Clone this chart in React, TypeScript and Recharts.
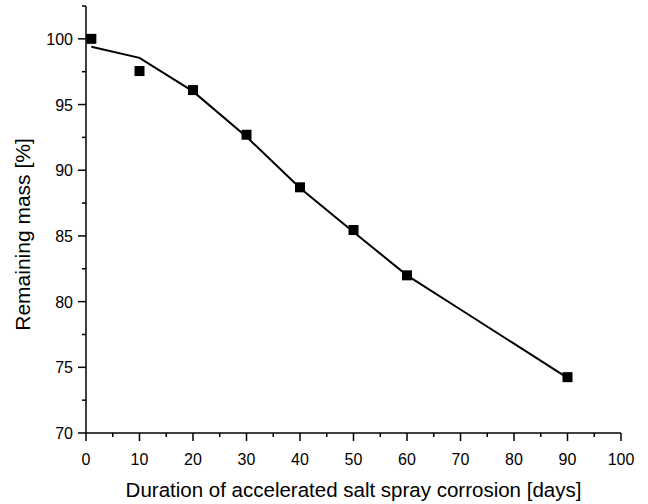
import React from "react";
import { ComposedChart, Line, Scatter, XAxis, YAxis } from "recharts";

// measured points
const days = [1, 10, 20, 30, 40, 50, 60, 90];
const mass = [100, 97.55, 96.1, 92.7, 88.7, 85.45, 82.0, 74.25];

// fitted curve
const fitDays = [1, 10, 20, 30, 40, 50, 60, 70, 80, 90];
const fitMass = [99.4, 98.55, 96.0, 92.55, 88.65, 85.3, 82.0, 79.4, 76.8, 74.2];

const xTicks = [0, 5, 10, 15, 20, 25, 30, 35, 40, 45, 50, 55, 60, 65, 70, 75, 80, 85, 90, 95, 100];
const yTicks = [70, 72.5, 75, 77.5, 80, 82.5, 85, 87.5, 90, 92.5, 95, 97.5, 100, 102.5];

const points = days.map((d, i) => ({ x: d, y: mass[i] }));
const fit = fitDays.map((d, i) => ({ x: d, fit: fitMass[i] }));

const font = "'Liberation Sans', Arial, sans-serif";

const XTick = (props: any) => {
  const { x, y, payload } = props;
  const major = payload.value % 10 === 0;
  return (
    <g>
      <line x1={x} x2={x} y1={y} y2={y + (major ? 8 : 4)} stroke="#000" strokeWidth={1.5} />
      {major && (
        <text x={x} y={y + 32} textAnchor="middle" fontSize={16} fontFamily={font} fill="#000">
          {payload.value}
        </text>
      )}
    </g>
  );
};

const YTick = (props: any) => {
  const { x, y, payload } = props;
  const major = payload.value % 5 === 0;
  return (
    <g>
      <line x1={x} x2={x - (major ? 8 : 4)} y1={y} y2={y} stroke="#000" strokeWidth={1.5} />
      {major && (
        <text x={x - 13} y={y + 6} textAnchor="end" fontSize={16} fontFamily={font} fill="#000">
          {payload.value}
        </text>
      )}
    </g>
  );
};

const YLabel = (props: any) => {
  const { viewBox } = props;
  const cx = 30;
  const cy = viewBox.y + viewBox.height / 2 + 15;
  return (
    <text
      x={cx}
      y={cy}
      transform={`rotate(-90 ${cx} ${cy})`}
      textAnchor="middle"
      fontSize={21}
      fontFamily={font}
      fill="#000"
    >
      Remaining mass [%]
    </text>
  );
};

const Square = (props: any) => {
  const { cx, cy } = props;
  return <rect x={cx - 5} y={cy - 5} width={10} height={10} fill="#000" />;
};

export default function App() {
  return (
    <div style={{ position: "absolute", left: 0, top: 0, background: "#fff" }}>
      <ComposedChart width={648} height={504} margin={{ top: 6, right: 27, bottom: 0, left: 0 }}>
        <XAxis
          type="number"
          dataKey="x"
          domain={[0, 100]}
          ticks={xTicks}
          interval={0}
          height={71}
          tick={<XTick />}
          tickLine={false}
          tickSize={0}
          tickMargin={0}
          axisLine={{ stroke: "#000", strokeWidth: 1.5 }}
          label={{
            value: "Duration of accelerated salt spray corrosion [days]",
            position: "insideBottom",
            offset: 7,
            style: { fontSize: 20.5, fontFamily: font, fill: "#000" },
          }}
        />
        <YAxis
          type="number"
          domain={[70, 102.5]}
          ticks={yTicks}
          interval={0}
          width={86}
          tick={<YTick />}
          tickLine={false}
          tickSize={0}
          tickMargin={0}
          axisLine={{ stroke: "#000", strokeWidth: 1.5 }}
          label={{ content: <YLabel /> }}
        />
        <Line
          data={fit}
          dataKey="fit"
          type="linear"
          stroke="#000"
          strokeWidth={2}
          dot={false}
          isAnimationActive={false}
        />
        <Scatter data={points} dataKey="y" fill="#000" shape={<Square />} isAnimationActive={false} />
      </ComposedChart>
    </div>
  );
}
